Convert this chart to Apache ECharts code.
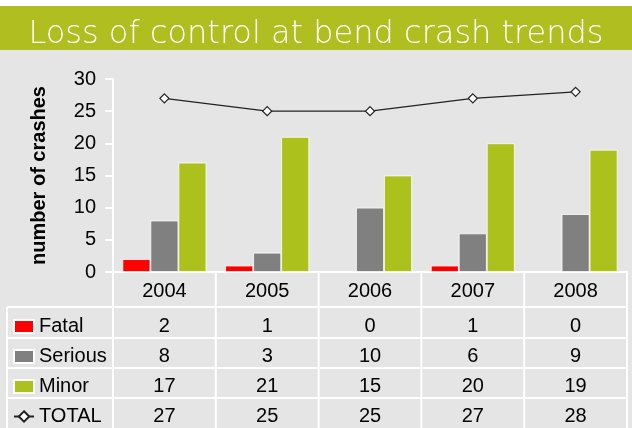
<!DOCTYPE html>
<html>
<head>
<meta charset="utf-8">
<script src="https://cdn.jsdelivr.net/npm/echarts@6/dist/echarts.min.js"></script>
<style>
html,body{margin:0;padding:0;background:#fff;}
#c{width:632px;height:428px;}
</style>
</head>
<body>
<div id="c"></div>
<script>
const titleText = 'Loss of control at bend crash trends';
const years = ['2004', '2005', '2006', '2007', '2008'];
const fatal = [2, 1, 0, 1, 0];
const serious = [8, 3, 10, 6, 9];
const minor = [17, 21, 15, 20, 19];
const total = [27, 25, 25, 27, 28];
const seriesNames = ['Fatal', 'Serious', 'Minor', 'TOTAL'];
const yTicks = [0, 5, 10, 15, 20, 25, 30];

const FONT = "'Liberation Sans', Arial, sans-serif";
const W = 632, H = 428;
const gridL = 113, gridR = 5, gridT = 79, gridB = 156;
const axisY = H - gridB;          // 272
const plotRight = W - gridR;      // 627
const colW = (plotRight - gridL) / years.length;
const rowLines = [axisY, 307, 338, 368, 398];
const tableLeft = 7;

const chart = echarts.init(document.getElementById('c'), null, {renderer: 'canvas'});

const rowValues = [fatal, serious, minor, total];
const rowOffsets = [35, 65, 95, 124.5];

const xAxes = [{
  type: 'category', data: years, gridIndex: 0, position: 'bottom',
  axisLine: {show: true, lineStyle: {color: '#fff', width: 2}},
  axisTick: {show: false},
  axisLabel: {fontFamily: FONT, fontSize: 20, color: '#000', margin: 9.5, lineHeight: 20}
}];
rowValues.forEach((arr, r) => {
  xAxes.push({
    type: 'category', data: years, gridIndex: 0, position: 'bottom', offset: rowOffsets[r],
    axisLine: {show: false}, axisTick: {show: false},
    axisLabel: {fontFamily: FONT, fontSize: 20, color: '#000', margin: 9.5, lineHeight: 20,
      formatter: (v, i) => String(arr[i])}
  });
});

// table border lines
const lines = [];
const addLine = (x1, y1, x2, y2) => lines.push({type: 'line', shape: {x1, y1, x2, y2},
  style: {stroke: '#fff', lineWidth: 2}, silent: true});
for (let i = 1; i < rowLines.length; i++) addLine(tableLeft, rowLines[i], plotRight, rowLines[i]);
addLine(tableLeft, rowLines[1], tableLeft, H);
for (let i = 0; i <= years.length; i++) {
  const x = gridL + i * colW;
  addLine(x, axisY, x, H);
}

const option = {
  backgroundColor: '#e5e5e5',
  animation: false,
  graphic: [
    {type: 'rect', shape: {x: 0, y: 0, width: W, height: 6}, style: {fill: '#fff'}, silent: true},
    {type: 'rect', shape: {x: 0, y: 6, width: W, height: 44}, style: {fill: '#b0be1f'}, silent: true},
    {type: 'text', x: W / 2, y: 34.5, style: {text: titleText, fill: '#fff',
      font: '200 32px "DejaVu Sans", ' + FONT,
      textAlign: 'center', textVerticalAlign: 'middle'}, silent: true}
  ].concat(lines),
  legend: {
    orient: 'vertical', left: 13, top: 316.5, padding: 0, height: 120, width: 100,
    itemGap: 10, itemWidth: 20, itemHeight: 13,
    data: [
      {name: seriesNames[0], icon: 'rect'},
      {name: seriesNames[1], icon: 'rect'},
      {name: seriesNames[2], icon: 'rect'},
      {name: seriesNames[3]}
    ],
    textStyle: {fontFamily: FONT, fontSize: 20, color: '#000', lineHeight: 20},
    selectedMode: false
  },
  grid: {left: gridL, right: gridR, top: gridT, bottom: gridB, containLabel: false},
  xAxis: xAxes,
  yAxis: {
    type: 'value', min: yTicks[0], max: yTicks[yTicks.length - 1], interval: 5,
    name: 'number of crashes', nameLocation: 'middle', nameGap: 64,
    nameTextStyle: {fontFamily: FONT, fontSize: 20, fontWeight: 'bold', color: '#000'},
    axisLine: {show: true, lineStyle: {color: '#fff', width: 2}},
    axisTick: {show: true, length: 8, lineStyle: {color: '#fff', width: 2}},
    axisLabel: {fontFamily: FONT, fontSize: 20, color: '#000', margin: 17},
    splitLine: {show: false}
  },
  series: [
    {name: 'Fatal', type: 'bar', data: fatal, barWidth: 28, barGap: '0%',
      itemStyle: {color: '#ff0000', borderColor: '#fff', borderWidth: 0.8}},
    {name: 'Serious', type: 'bar', data: serious, barWidth: 28, barGap: '0%',
      itemStyle: {color: '#808080', borderColor: '#fff', borderWidth: 0.8}},
    {name: 'Minor', type: 'bar', data: minor, barWidth: 28, barGap: '0%',
      itemStyle: {color: '#adc11c', borderColor: '#fff', borderWidth: 0.8}},
    {name: 'TOTAL', type: 'line', data: total, symbol: 'diamond', symbolSize: 9,
      lineStyle: {color: '#222', width: 1.3},
      itemStyle: {color: '#fff', borderColor: '#222', borderWidth: 1.2}}
  ]
};
chart.setOption(option);
</script>
</body>
</html>
